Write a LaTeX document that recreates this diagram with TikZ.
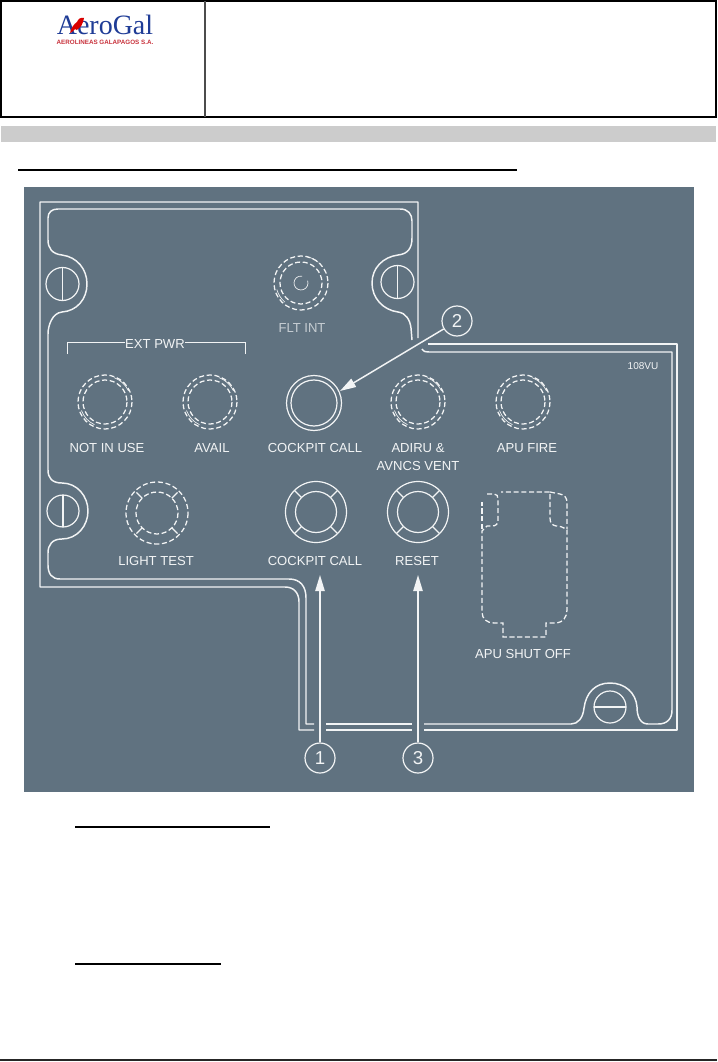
\documentclass[tikz,border=0pt]{standalone}
\usepackage{fontspec}
\setmainfont{Liberation Sans}
\newfontfamily\logofont{Liberation Serif}
\usetikzlibrary{arrows.meta}
\definecolor{panelbg}{HTML}{607280}
\definecolor{ink}{HTML}{F2F4F5}
\definecolor{logoblue}{HTML}{1F3C96}
\definecolor{logored}{HTML}{C8323C}
\definecolor{barg}{HTML}{CCCCCC}
\tikzset{
  x=0.75pt,y=-0.75pt,
  panelline/.style={draw=ink,line width=1.1pt,line join=round},
  thinline/.style={draw=ink,line width=0.9pt},
  dashring/.style={draw=ink,line width=0.95pt,dash pattern=on 3.8pt off 2pt},
  solidarc/.style={draw=ink,line width=0.5pt},
  lab/.style={text=ink,font=\fontsize{9.8pt}{11pt}\selectfont,inner sep=0pt},
  callout/.style={circle,draw=ink,line width=0.9pt,minimum size=22.5pt,inner sep=0pt,text=ink,font=\fontsize{14pt}{14pt}\selectfont},
  ptr/.style={draw=ink,line width=1.1pt,-{Triangle[length=12pt,width=7pt]}},
  rule/.style={draw=black,line width=0.9pt},
  frame/.style={draw=black,line width=1.5pt},
  pt/.style={inner sep=0pt,minimum size=0pt}
}
\begin{document}
\begin{tikzpicture}
\useasboundingbox (0,0) rectangle (717,1062);
% page furniture
\draw[frame] (1,1) rectangle (716,117);
\draw[frame,draw=black!70] (205,1) -- (205,117);
\fill[barg] (1,126) rectangle (716,142);
\draw[rule] (18,170) -- (517,170);
\draw[rule] (75,827) -- (270,827);
\draw[rule] (75,964) -- (221,964);
\draw[frame,draw=black!85] (0,1060) -- (717,1060);
% logo
\node[pt,text=logoblue,anchor=base,font=\logofont\fontsize{21pt}{21pt}\selectfont,text height=13pt,text depth=0pt] (logo) at (105,35) {AeroGal};
\node[pt,text=logored,font=\bfseries\fontsize{4.7pt}{5pt}\selectfont] (logosub) at (105,42) {AEROLINEAS GALAPAGOS S.A.};
\fill[red!85!black] (70,33) .. controls (71,28) and (74,24) .. (77,22) .. controls (78,19) and (81,17) .. (84,18) -- (83,22) .. controls (82,25) and (81,27) .. (78,29) .. controls (78,31) and (76,30) .. (75,29) .. controls (74,31) and (72,32) .. (70,33) -- cycle;
% panel
\fill[panelbg] (24,187) rectangle (694,792);
% outer outline
\draw[panelline] (418,338) -- (418,202) -- (40,202) -- (40,587) -- (285,587)
  .. controls (294,587) and (299,593) .. (299,602) -- (299,730) -- (314,730);
\draw[panelline] (326,730) -- (412,730);
\draw[panelline] (424,730) -- (677,730) -- (677,344) -- (428,344);
% inner outline
\draw[panelline] (422,349) .. controls (424,352) and (426,352) .. (429,352) -- (672,352) -- (672,710)
  .. controls (672,719) and (667,724) .. (658,724) -- (648,724)
  .. controls (640,724) and (637,716) .. (637,707)
  .. controls (636,693) and (625,683) .. (610,683)
  .. controls (595,683) and (586,693) .. (584,708)
  .. controls (583,718) and (578,724) .. (571,724) -- (424,724);
\draw[panelline] (412,724) -- (326,724);
\draw[panelline] (314,724) -- (306,724) -- (306,598)
  .. controls (306,586) and (300,579) .. (289,579) -- (60,579)
  .. controls (52,579) and (48,574) .. (48,565) -- (48,553)
  .. controls (48,545) and (52,539) .. (62,539)
  .. controls (77,539) and (88,526) .. (88,511)
  .. controls (88,496) and (77,483) .. (62,483)
  .. controls (52,483) and (48,478) .. (48,470) -- (48,334)
  .. controls (48,326) and (52,313) .. (62,312)
  .. controls (77,311) and (87,299) .. (87,284)
  .. controls (87,269) and (77,257) .. (62,255)
  .. controls (52,254) and (48,248) .. (48,240) -- (48,218)
  .. controls (48,212) and (52,209) .. (58,209) -- (400,209)
  .. controls (408,209) and (412,214) .. (412,221) -- (412,238)
  .. controls (412,248) and (408,254) .. (398,255)
  .. controls (383,257) and (372,268) .. (372,283)
  .. controls (372,298) and (383,310) .. (398,312)
  .. controls (406,313) and (410,320) .. (411,328) -- (412,340);
% screws
\draw[thinline] (62.5,284) circle[radius=16.5];
\draw[thinline] (62.5,267.5) -- (62.5,300.5);
\draw[thinline] (63,511) circle[radius=16];
\draw[thinline] (63,495) -- (63,527);
\draw[thinline] (397.5,282) circle[radius=16.5];
\draw[thinline] (397.5,265.5) -- (397.5,298.5);
\draw[thinline] (610,707) circle[radius=16];
\draw[thinline] (594,707) -- (626,707);
% FLT INT
\draw[dashring] (301,283) circle[radius=27];
\draw[dashring] (301,283) circle[radius=21];
\draw[thinline,line width=0.5pt] (301,283) ++(-20:7) arc[start angle=-20,end angle=280,radius=7];
\draw[solidarc] (301,283) ++(-50:27) arc[start angle=-50,end angle=-80,radius=27];
\draw[solidarc] (301,283) ++(130:25) arc[start angle=130,end angle=165,radius=25];
\node[lab,text=ink!70!panelbg] (fltint) at (302,328) {FLT INT};
% EXT PWR
\node[lab] (extpwr) at (155,344) {EXT PWR};
\draw[thinline,line width=0.75pt] (67,354) -- (67,342) -- (extpwr.west |- 0,342);
\draw[thinline,line width=0.75pt] (245,354) -- (245,342) -- (extpwr.east |- 0,342);
% dashed rings
\foreach \cx in {105,210,418,523}{
  \draw[dashring] (\cx,402) circle[radius=27];
  \draw[dashring] (\cx,402) circle[radius=22];
  \draw[solidarc] (\cx,402) ++(-25:26) arc[start angle=-25,end angle=-70,radius=26];
  \draw[solidarc] (\cx,402) ++(115:25) arc[start angle=115,end angle=160,radius=25];
}
% cockpit call light
\draw[thinline] (314,403) circle[radius=27.5];
\draw[thinline] (314,403) circle[radius=23];
% pushbuttons
\foreach \cx in {316,418}{
  \draw[thinline] (\cx,512) circle[radius=30.5];
  \draw[thinline] (\cx,512) circle[radius=20.5];
  \foreach \a in {45,135,225,315}{
    \draw[thinline] (\cx,512) ++(\a:20.5) -- ++(\a:10);
  }
}
% light test
\draw[dashring] (157,513) circle[radius=31];
\draw[dashring] (157,513) circle[radius=21];
\foreach \a in {45,135,225,315}{
  \draw[thinline] (157,513) ++(\a:21) -- ++(\a:8);
}
% APU SHUT OFF outline
\draw[dashring] (487,494) -- (494,494) .. controls (497,494) and (498,496) .. (498,499) -- (498,520)
  .. controls (498,524) and (496,526) .. (492,526) -- (487,526) -- (482,531) -- (482,612)
  .. controls (482,619) and (487,623) .. (494,623) -- (503,623) -- (503,637) -- (546,637) -- (546,623)
  -- (557,623) .. controls (563,622) and (567,617) .. (567,610) -- (567,530)
  .. controls (563,527) and (560,526) .. (556,526) .. controls (552,525) and (550,523) .. (550,518) -- (550,492)
  -- (501,492);
\draw[dashring] (482,529) -- (482,502);
\draw[dashring] (550,492) -- (560,494) .. controls (565,495) and (567,498) .. (567,503) -- (567,529);
% labels
\node[lab] (l1) at (107,448) {NOT IN USE};
\node[lab] (l2) at (212,448) {AVAIL};
\node[lab] (l3) at (315,448) {COCKPIT CALL};
\node[lab] (l4) at (418,448) {ADIRU \&};
\node[lab] (l5) at (418,466) {AVNCS VENT};
\node[lab] (l6) at (527,448) {APU FIRE};
\node[lab] (l7) at (156,561) {LIGHT TEST};
\node[lab] (l8) at (315,561) {COCKPIT CALL};
\node[lab] (l9) at (417,561) {RESET};
\node[lab] (l10) at (523,654) {APU SHUT OFF};
\node[lab,font=\fontsize{7.5pt}{9pt}\selectfont] (l11) at (643,366) {108VU};
% callouts
\node[callout] (c1) at (320,758) {1};
\node[callout] (c2) at (457,321) {2};
\node[callout] (c3) at (418,758) {3};
\coordinate (t1) at (320,575);
\coordinate (t2) at (340,391);
\coordinate (t3) at (418,575);
\draw[ptr] (c1) -- (t1);
\draw[ptr] (c2) -- (t2);
\draw[ptr] (c3) -- (t3);
\end{tikzpicture}
\end{document}
